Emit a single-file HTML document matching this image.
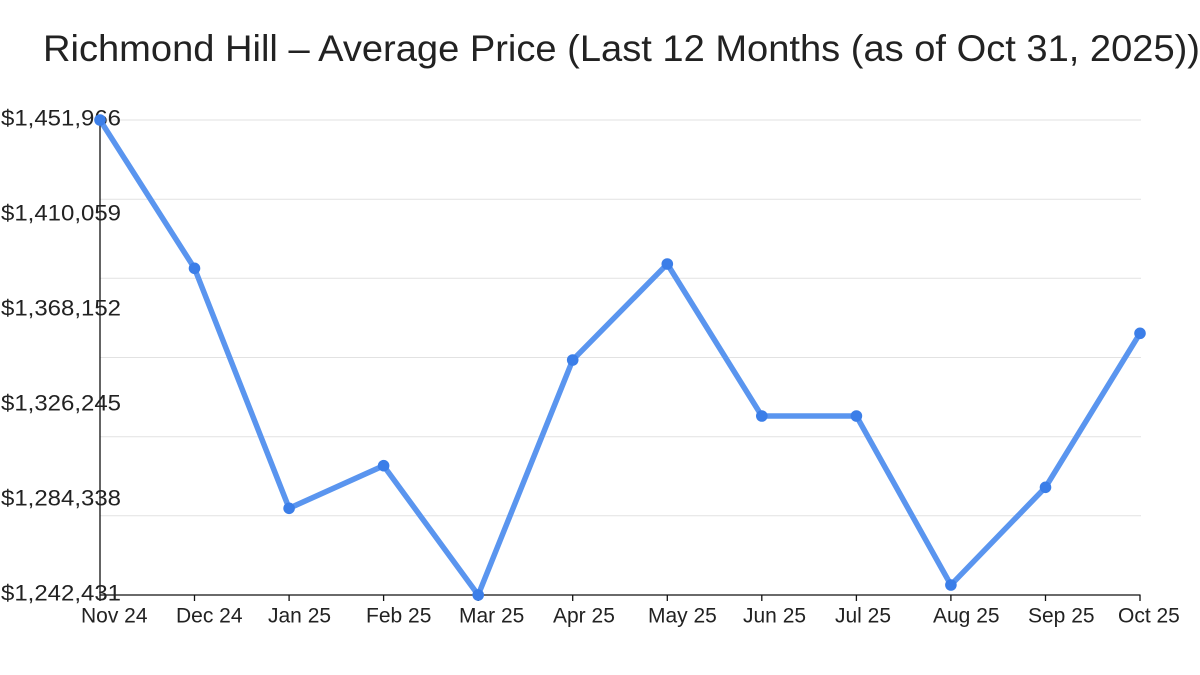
<!DOCTYPE html>
<html>
<head>
<meta charset="utf-8">
<style>
  html, body { margin: 0; padding: 0; background: #ffffff; }
  body { width: 1200px; height: 675px; overflow: hidden; }
  svg { display: block; }
  text { font-family: "Liberation Sans", "DejaVu Sans", sans-serif; fill: #222222; }
</style>
</head>
<body>
<svg width="1200" height="675" viewBox="0 0 1200 675" xmlns="http://www.w3.org/2000/svg">
  <rect width="1200" height="675" fill="#ffffff"/>

  <!-- Title -->
  <text x="43" y="61" font-size="37" textLength="1157" lengthAdjust="spacingAndGlyphs">Richmond Hill – Average Price (Last 12 Months (as of Oct 31, 2025))</text>

  <!-- Gridlines -->
  <g stroke="#e2e2e2" stroke-width="1">
    <line x1="100" y1="120" x2="1141" y2="120"/>
    <line x1="100" y1="199.2" x2="1141" y2="199.2"/>
    <line x1="100" y1="278.3" x2="1141" y2="278.3"/>
    <line x1="100" y1="357.5" x2="1141" y2="357.5"/>
    <line x1="100" y1="436.7" x2="1141" y2="436.7"/>
    <line x1="100" y1="515.8" x2="1141" y2="515.8"/>
  </g>

  <!-- Axes -->
  <g stroke="#111111" stroke-width="1.3">
    <line x1="100" y1="118" x2="100" y2="595.5"/>
    <line x1="99.5" y1="595" x2="1140.5" y2="595"/>
    <line x1="100" y1="595" x2="100" y2="601"/>
    <line x1="194.5" y1="595" x2="194.5" y2="601"/>
    <line x1="289.1" y1="595" x2="289.1" y2="601"/>
    <line x1="383.6" y1="595" x2="383.6" y2="601"/>
    <line x1="478.2" y1="595" x2="478.2" y2="601"/>
    <line x1="572.7" y1="595" x2="572.7" y2="601"/>
    <line x1="667.3" y1="595" x2="667.3" y2="601"/>
    <line x1="761.8" y1="595" x2="761.8" y2="601"/>
    <line x1="856.4" y1="595" x2="856.4" y2="601"/>
    <line x1="950.9" y1="595" x2="950.9" y2="601"/>
    <line x1="1045.5" y1="595" x2="1045.5" y2="601"/>
    <line x1="1140" y1="595" x2="1140" y2="601"/>
  </g>

  <!-- Y labels -->
  <g font-size="22">
    <text x="1" y="125.7" textLength="120" lengthAdjust="spacingAndGlyphs">$1,451,966</text>
    <text x="1" y="220.7" textLength="120" lengthAdjust="spacingAndGlyphs">$1,410,059</text>
    <text x="1" y="315.7" textLength="120" lengthAdjust="spacingAndGlyphs">$1,368,152</text>
    <text x="1" y="410.7" textLength="120" lengthAdjust="spacingAndGlyphs">$1,326,245</text>
    <text x="1" y="505.7" textLength="120" lengthAdjust="spacingAndGlyphs">$1,284,338</text>
    <text x="1" y="600.5" textLength="120" lengthAdjust="spacingAndGlyphs">$1,242,431</text>
  </g>

  <!-- X labels -->
  <g font-size="21">
    <text x="81" y="622.7">Nov 24</text>
    <text x="176" y="622.7">Dec 24</text>
    <text x="268" y="622.7">Jan 25</text>
    <text x="366" y="622.7">Feb 25</text>
    <text x="459" y="622.7">Mar 25</text>
    <text x="553" y="622.7">Apr 25</text>
    <text x="648" y="622.7">May 25</text>
    <text x="743" y="622.7">Jun 25</text>
    <text x="835" y="622.7">Jul 25</text>
    <text x="933" y="622.7">Aug 25</text>
    <text x="1028" y="622.7">Sep 25</text>
    <text x="1118" y="622.7">Oct 25</text>
  </g>

  <!-- Series -->
  <polyline fill="none" stroke="#5a95ef" stroke-width="5.5" stroke-linejoin="round" stroke-linecap="round"
    points="100,120 194.5,268.3 289.1,508.3 383.6,465.7 478.2,595 572.7,360 667.3,264 761.8,416 856.4,416 950.9,585 1045.5,487.3 1140,333.3"/>
  <g fill="#3b7ee8">
    <circle cx="100" cy="120" r="5.8"/>
    <circle cx="194.5" cy="268.3" r="5.8"/>
    <circle cx="289.1" cy="508.3" r="5.8"/>
    <circle cx="383.6" cy="465.7" r="5.8"/>
    <circle cx="478.2" cy="595" r="5.8"/>
    <circle cx="572.7" cy="360" r="5.8"/>
    <circle cx="667.3" cy="264" r="5.8"/>
    <circle cx="761.8" cy="416" r="5.8"/>
    <circle cx="856.4" cy="416" r="5.8"/>
    <circle cx="950.9" cy="585" r="5.8"/>
    <circle cx="1045.5" cy="487.3" r="5.8"/>
    <circle cx="1140" cy="333.3" r="5.8"/>
  </g>
</svg>
</body>
</html>
